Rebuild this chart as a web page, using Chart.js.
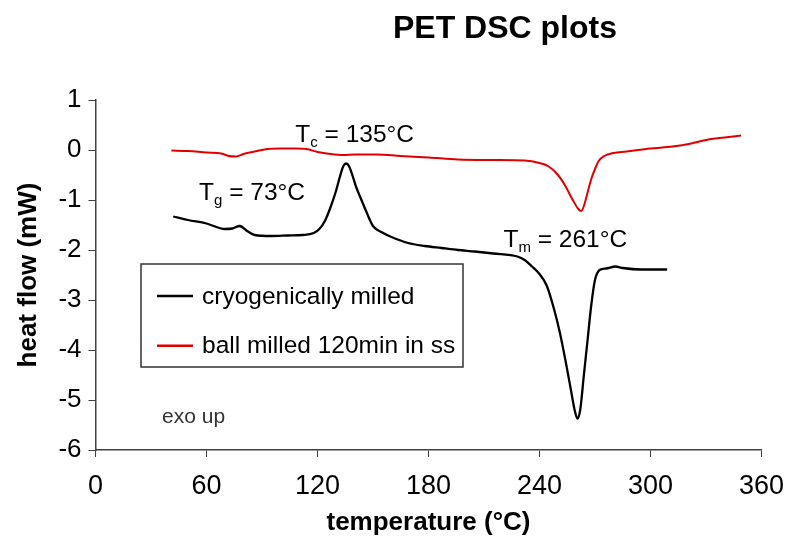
<!DOCTYPE html>
<html>
<head>
<meta charset="utf-8">
<title>PET DSC plots</title>
<script src="https://cdn.jsdelivr.net/npm/chart.js@4.4.1/dist/chart.umd.min.js"></script>
<style>
  html, body { margin: 0; padding: 0; background: #fff; overflow: hidden; }
  canvas { display: block; }
</style>
</head>
<body>
<canvas id="dscChart" width="797" height="546"></canvas>
<script>
// series names and values
const seriesNames = ['cryogenically milled', 'ball milled 120min in ss'];

const cryoTemp = [42, 50, 60, 70, 74, 78, 82, 86, 95, 104, 112, 118, 121, 124, 127, 130, 132, 134, 135.5, 137, 139, 141, 143, 146, 150, 155, 160, 169, 178, 187, 196, 205, 215, 228, 232, 236, 240, 244, 248, 251, 254, 257, 259, 260.5, 262, 264, 266, 268, 270, 272.5, 276, 281, 285, 295, 309];
const cryoFlow = [-1.33, -1.40, -1.47, -1.58, -1.57, -1.52, -1.62, -1.70, -1.72, -1.71, -1.70, -1.66, -1.58, -1.42, -1.15, -0.82, -0.55, -0.32, -0.27, -0.32, -0.52, -0.75, -0.93, -1.20, -1.52, -1.65, -1.74, -1.86, -1.92, -1.96, -2.00, -2.03, -2.07, -2.13, -2.20, -2.33, -2.48, -2.72, -3.20, -3.65, -4.20, -4.80, -5.20, -5.37, -5.20, -4.50, -3.80, -3.10, -2.60, -2.40, -2.37, -2.33, -2.36, -2.39, -2.39];

const ballTemp = [41, 50, 60, 68, 72, 76, 80, 86, 93, 100, 108, 114, 120, 127, 134, 140, 152, 165, 180, 196, 215, 232, 240, 245, 250, 254, 258, 261, 262.5, 264, 266, 268, 270, 272, 275, 280, 287, 300, 312, 322, 330, 340, 349];
const ballFlow = [-0.01, -0.02, -0.05, -0.07, -0.12, -0.13, -0.08, -0.03, 0.02, 0.03, 0.03, 0.02, -0.04, -0.08, -0.10, -0.09, -0.09, -0.12, -0.15, -0.19, -0.20, -0.21, -0.26, -0.33, -0.50, -0.72, -1.00, -1.18, -1.22, -1.12, -0.85, -0.58, -0.38, -0.22, -0.12, -0.06, -0.03, 0.03, 0.07, 0.13, 0.20, 0.25, 0.29];

// tick labels
const xTickValues = [0, 60, 120, 180, 240, 300, 360];
const yTickValues = [-6, -5, -4, -3, -2, -1, 0, 1];

// text notes on the plot, anchored in data units
const notes = [
  { main: 'T', sub: 'c', rest: ' = 135°C', x: 108, y: 0.17 },
  { main: 'T', sub: 'g', rest: ' = 73°C', x: 56, y: -0.99 },
  { main: 'T', sub: 'm', rest: ' = 261°C', x: 220.5, y: -1.93 }
];

const toPoints = (xs, ys) => xs.map((x, i) => ({ x: x, y: ys[i] }));

const FONT = '"Liberation Sans", Arial, sans-serif';

// title, notes and the boxed legend drawn on top of the chart
const extras = {
  id: 'extras',
  afterDraw(chart) {
    const ctx = chart.ctx;
    const xs = chart.scales.x, ys = chart.scales.y;
    const area = chart.chartArea;
    ctx.save();

    // title
    ctx.fillStyle = '#000';
    ctx.font = 'bold 32px ' + FONT;
    ctx.textAlign = 'center';
    ctx.textBaseline = 'middle';
    ctx.fillText('PET DSC plots', 505, 29);

    // T notes with subscripts
    ctx.textAlign = 'left';
    ctx.textBaseline = 'alphabetic';
    notes.forEach(n => {
      let px = xs.getPixelForValue(n.x);
      const py = ys.getPixelForValue(n.y);
      ctx.font = '24.5px ' + FONT;
      ctx.fillText(n.main, px, py);
      px += ctx.measureText(n.main).width;
      ctx.font = '15px ' + FONT;
      ctx.fillText(n.sub, px, py + 5);
      px += ctx.measureText(n.sub).width;
      ctx.font = '24.5px ' + FONT;
      ctx.fillText(n.rest, px, py);
    });

    // exo up
    ctx.fillStyle = '#333';
    ctx.font = '21px ' + FONT;
    ctx.fillText('exo up', xs.getPixelForValue(36), ys.getPixelForValue(-5.46));

    // legend box
    const bx = area.left + 45.5, by = 264, bw = 322, bh = 103;
    ctx.fillStyle = '#fff';
    ctx.fillRect(bx, by, bw, bh);
    ctx.strokeStyle = '#333';
    ctx.lineWidth = 1.5;
    ctx.strokeRect(bx, by, bw, bh);
    ctx.font = '24.5px ' + FONT;
    ctx.textBaseline = 'middle';
    chart.data.datasets.forEach((ds, i) => {
      const ly = by + 32 + i * 49.7;
      ctx.strokeStyle = ds.borderColor;
      ctx.lineWidth = 2.5;
      ctx.beginPath();
      ctx.moveTo(bx + 16, ly);
      ctx.lineTo(bx + 52, ly);
      ctx.stroke();
      ctx.fillStyle = '#000';
      ctx.fillText(ds.label, bx + 61, ly + 1);
    });
    ctx.restore();
  }
};

const ctx = document.getElementById('dscChart').getContext('2d');

const dscChart = new Chart(ctx, {
  type: 'line',
  data: {
    datasets: [{
      label: seriesNames[0],
      data: toPoints(cryoTemp, cryoFlow),
      borderColor: '#000000',
      borderWidth: 2.3,
      pointRadius: 0,
      cubicInterpolationMode: 'monotone'
    }, {
      label: seriesNames[1],
      data: toPoints(ballTemp, ballFlow),
      borderColor: '#e00000',
      borderWidth: 2,
      pointRadius: 0,
      cubicInterpolationMode: 'monotone'
    }]
  },
  options: {
    responsive: false,
    animation: false,
    events: [],
    layout: { padding: { top: 100, right: 27, left: 0, bottom: 0 } },
    plugins: {
      legend: { display: false },
      title: { display: false },
      tooltip: { enabled: false }
    },
    scales: {
      x: {
        type: 'linear',
        min: 0,
        max: 360,
        afterBuildTicks: s => { s.ticks = xTickValues.map(v => ({ value: v })); },
        afterFit: s => { s.height = 96; },
        border: { color: '#404040', width: 1.5 },
        grid: { drawOnChartArea: false, tickLength: 7, tickColor: '#404040', tickWidth: 1 },
        ticks: { color: '#000', font: { family: FONT, size: 27 }, padding: 13, maxRotation: 0 },
        title: {
          display: true,
          text: 'temperature (°C)',
          color: '#000',
          font: { family: FONT, size: 26, weight: 'bold' },
          padding: { top: 0, bottom: 8 }
        }
      },
      y: {
        min: -6,
        max: 1,
        afterBuildTicks: s => { s.ticks = yTickValues.map(v => ({ value: v })); },
        afterFit: s => { s.width = 95.5; },
        border: { color: '#404040', width: 1.5 },
        grid: { drawOnChartArea: false, tickLength: 7, tickColor: '#404040', tickWidth: 1 },
        ticks: { color: '#000', font: { family: FONT, size: 26 }, padding: 7 },
        title: {
          display: true,
          text: 'heat flow (mW)',
          color: '#000',
          font: { family: FONT, size: 26, weight: 'bold' },
          padding: { top: 13, bottom: 0 }
        }
      }
    }
  },
  plugins: [extras]
});
</script>
</body>
</html>
